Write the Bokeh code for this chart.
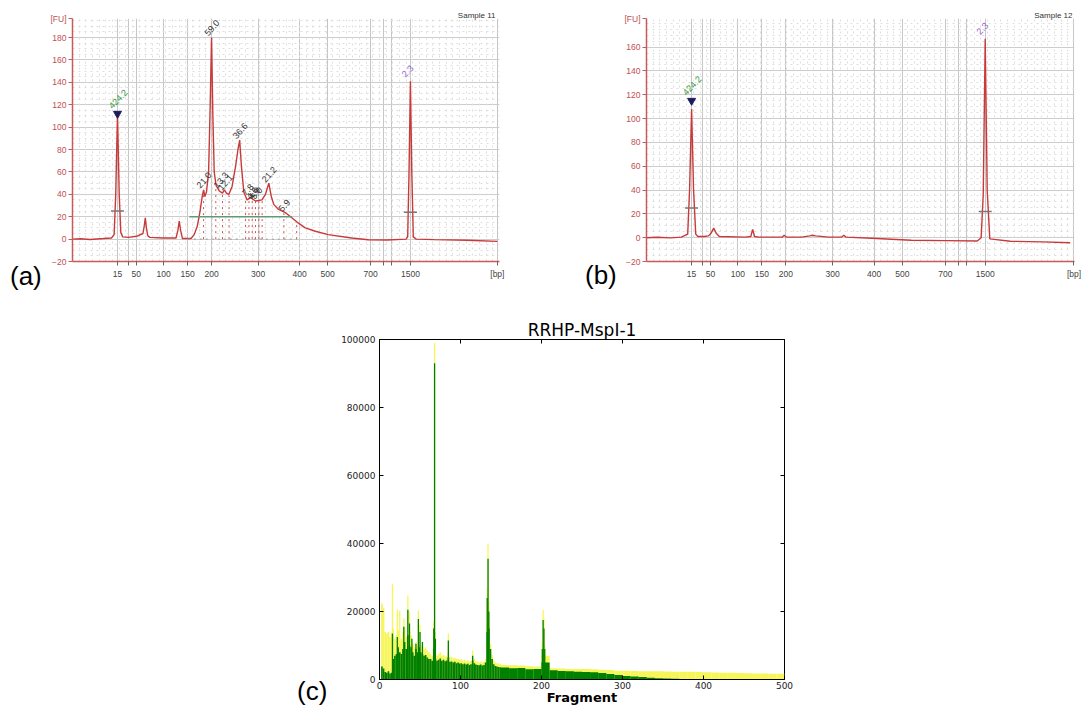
from bokeh.plotting import figure
from bokeh.layouts import column, row
from bokeh.models import (Range1d, FixedTicker, SingleIntervalTicker, Grid, LinearAxis,
                          NumeralTickFormatter, Div)
from bokeh.core.properties import value
from bokeh.embed import file_html
from bokeh.resources import INLINE

# ---------------- DNA 1000 ladder: size (bp) vs migration time (s) ----------------
ladder_bp = [15, 25, 50, 100, 150, 200, 300, 400, 500, 700, 850, 1000, 1500]
ladder_t = [28.43, 30.42, 31.96, 37.06, 41.58, 46.05, 54.79, 62.55, 67.81, 75.87, 78.36, 79.72, 83.31]
ladder_labelled = [15, 50, 100, 150, 200, 300, 400, 500, 700, 1500]

# ---------------- Sample 11 electropherogram ----------------
a_t = [20.0, 21.5, 23.3, 25.8, 27.3, 27.8, 28.1, 28.43, 28.75, 29.05, 29.4, 30.5, 32.0, 33.2, 33.45,
       33.64, 33.85, 34.1, 34.5, 36.9, 39.4, 39.75, 40.0, 40.25, 40.6, 42.2, 42.8, 43.4, 43.9, 44.3,
       44.56, 44.8, 45.1, 45.5, 45.8, 46.05, 46.3, 46.55, 46.9, 47.5, 48.1, 48.45, 48.85, 49.3, 49.9,
       50.55, 51.0, 51.32, 51.65, 52.1, 52.7, 53.35, 54.3, 55.5, 56.15, 56.78, 57.25, 57.7, 58.6, 59.9,
       61.1, 62.4, 63.6, 65.5, 67.9, 72.3, 75.4, 79.0, 82.5, 82.8, 83.05, 83.31, 83.57, 83.85, 84.4,
       87.8, 94.0, 99.6]
a_fu = [0.0, 0.3, -0.3, 0.5, 1.0, 4, 40, 112, 40, 6, 2, 1.5, 2.5, 5, 12,
        19, 10, 3, 1.5, 1.0, 1.0, 8, 16, 8, 0.5, 0.5, 4, 12, 25, 38,
        44, 38, 42, 60, 120, 180, 110, 60, 48, 43, 41, 44, 41, 40, 47,
        65, 80, 88.5, 65, 42, 35, 37, 34, 35, 40, 50, 38, 31, 26.5, 23.6,
        19, 14, 10, 7, 4, 1, -0.6, -0.8, 0, 2, 60, 141, 60, 2, 0,
        -0.5, -1.0, -2.0]
a_peak_t = [46.05, 51.32, 44.56, 47.75, 48.55, 53.06, 53.9, 54.3, 54.7, 56.78, 59.9]
a_peak_fu = [181, 89, 45, 45, 43, 38, 35, 35, 35, 50, 24]
a_peak_lbl = ["59.0", "36.6", "21.0", "13.3", "12.1", "7.8", "4.6", "4.9", "5.0", "21.2", "5.9"]
a_bound_t = [44.56, 46.85, 48.1, 49.33, 52.43, 53.06, 53.67, 54.29, 54.92, 55.53, 59.6, 62.0]
a_bound_fu = [44, 47, 41, 40, 40, 35, 36, 34, 34, 35, 24, 16]
a_marker_t = [28.43, 83.31]
a_marker_fu = [112, 141]
a_width_fu = [25, 24]
a_smear_t = [41.9, 61.1]
a_smear_fu = 20
a_base_t = [41.6, 62.05]

# ---------------- Sample 12 electropherogram ----------------
b_t = [20.0, 22.0, 24.5, 26.5, 27.7, 28.05, 28.43, 28.8, 29.2, 29.6, 30.8, 31.6, 32.1, 32.56, 33.0,
       33.6, 38.5, 39.5, 39.83, 40.2, 41.0, 45.4, 45.74, 46.1, 49.0, 50.5, 51.03, 51.6, 54.0, 56.5,
       56.88, 57.3, 62.12, 69.51, 76.0, 81.83, 82.55, 82.94, 83.31, 83.68, 84.17, 88.0, 94.0, 99.2]
b_fu = [0, 0.3, -0.2, 0.5, 3, 40, 108, 40, 3, 1, 1, 1.5, 4, 8, 4,
        1, 0.5, 1, 7, 1, 0.5, 0.5, 2, 0.5, 0.5, 1.5, 2, 1.5, 0.5, 0.5,
        2, 0.5, -0.5, -2.2, -2.5, -2.8, 0, 36, 167, 40, -1, -3, -3.5, -4.2]
b_marker_t = [28.43, 83.31]
b_marker_fu = [115, 167]
b_width_fu = [25, 22]

marker_lbl = ["424.2", "2.3"]
marker_col = ["#3a9a3a", "#9a6ad0"]

# ---------------- RRHP-MspI-1 fragment histogram ----------------
fine_w = 2      # 0-150 bp, 2-bp bins
coarse_start = 150
coarse_w = 10   # 150-500 bp, 10-bp bins
green_fine = [0, 3800, 3200, 2200, 2000, 2400, 1800, 2000, 6000, 7000, 7500, 9500, 8000, 7500, 9000,
              11000, 9000, 13000, 10000, 9500, 8000, 7000, 9000, 8000, 9500, 8000, 7500, 7000, 7200, 6500,
              6000, 6000, 5500, 9000, 6000, 5500, 5800, 6200, 5500, 5800, 5400, 5600, 6500, 5200, 5300,
              5000, 5200, 4800, 5000, 4700, 4800, 4500, 4700, 4400, 4600, 4300, 4500, 5500, 4800, 4400,
              4300, 4200, 4400, 4100, 4300, 5000, 14000, 15000, 9000, 6000, 4500, 4000, 3800, 3700, 3600]
yellow_fine = [0, 22000, 21000, 14000, 13500, 14000, 12500, 13800, 15000, 12000, 13000, 14500, 11500, 12000, 14000,
               15500, 12500, 17000, 14500, 13000, 10500, 9500, 11000, 10000, 12000, 10000, 9500, 9000, 9500, 8500,
               8000, 7500, 7000, 10000, 7500, 7000, 7500, 8000, 7000, 7200, 6800, 6800, 8000, 6500, 6600,
               6200, 6400, 6000, 6100, 5800, 6000, 5600, 5800, 5400, 5600, 5300, 5500, 6800, 6000, 5400,
               5300, 5100, 5300, 5000, 5200, 6000, 16000, 17000, 10500, 7200, 5600, 5000, 4800, 4700, 4600]
green_coarse = [3500, 3300, 3400, 3000, 3100, 5000, 2700, 2500, 2400, 2300, 2200, 2100, 1900, 1600, 1300,
                1050, 850, 700, 550, 400, 280, 200, 150, 100, 60, 30, 20, 15, 10, 0, 0, 0, 0, 0, 0]
yellow_coarse = [4300, 4200, 4100, 3900, 3800, 7000, 3300, 3200, 3100, 3100, 3100, 3000, 2900, 2800, 2600,
                 2550, 2500, 2450, 2420, 2400, 2350, 2300, 2300, 2250, 2200, 2100, 2050, 2000, 1950, 1900,
                 1850, 1800, 1750, 1720, 1680]
green_spike_x = [16, 22, 30, 35, 37, 40, 45, 48, 50, 53, 67, 68, 69, 85, 115, 133, 134, 135, 201, 202, 203, 204]
green_spike_y = [13500, 12500, 15500, 20500, 16500, 12000, 10500, 17800, 14000, 11000, 15000, 93000, 12000,
                 11500, 7000, 24000, 35500, 20000, 9000, 17500, 15000, 9000]
yellow_spike_x = [3, 16, 22, 25, 30, 35, 37, 48, 50, 67, 68, 69, 85, 115, 133, 134, 135, 201, 202, 203, 204]
yellow_spike_y = [22500, 28000, 20500, 20300, 18000, 24700, 20000, 20300, 16000, 17000, 99000, 14000,
                  13500, 8500, 27000, 40000, 23000, 11000, 20500, 18000, 10000]
c_xticks = [0, 100, 200, 300, 400, 500]
c_yticks = [0, 20000, 40000, 60000, 80000, 100000]

TRACE = "#c83a3a"
AXRED = "#c85a5a"
LBLRED = "#c05050"
FONT_BA = "Liberation Sans"


def panel_label(txt, w, h, left, top):
    html = ('<div style="position:relative; left:%dpx; top:%dpx; font-family:\'Liberation Sans\', Arial, '
            'sans-serif; font-size:26px; line-height:30px; color:#000; white-space:nowrap;">%s</div>'
            % (left, top, txt))
    return Div(text=html, width=w, height=h, margin=0)


def electro(width, ml, mr, mt, mb, ytop, yticks, t, fu, m_t, m_fu, w_fu, sample, bp_pos, sample_off):
    p = figure(width=width, height=290, x_range=Range1d(20, 100), y_range=Range1d(-20, ytop),
               output_backend="svg", toolbar_location=None,
               min_border_left=ml, min_border_right=mr, min_border_top=mt, min_border_bottom=mb)
    p.outline_line_color = None
    p.title.text = sample
    p.title.align = "right"
    p.title.offset = sample_off
    p.title.standoff = -3
    p.title.text_font = FONT_BA
    p.title.text_font_size = "8px"
    p.title.text_font_style = "normal"
    p.title.text_color = "#333333"

    lab_t = [tt for tt, bp in zip(ladder_t, ladder_bp) if bp in ladder_labelled]
    unl_t = [tt for tt, bp in zip(ladder_t, ladder_bp) if bp not in ladder_labelled]
    xa = p.xaxis[0]
    xa.ticker = FixedTicker(ticks=lab_t + [bp_pos], minor_ticks=unl_t)
    overrides = {tt: str(bp) for tt, bp in zip(ladder_t, ladder_bp) if bp in ladder_labelled}
    overrides[bp_pos] = "[bp]"
    xa.major_label_overrides = overrides
    xa.axis_line_color = AXRED
    xa.axis_line_width = 1.5
    xa.major_tick_line_color = "#666666"
    xa.major_tick_out = 4
    xa.major_tick_in = 0
    xa.minor_tick_line_color = "#666666"
    xa.minor_tick_out = 4
    xa.minor_tick_in = 0
    xa.major_label_text_color = "#444444"
    xa.major_label_text_font = FONT_BA
    xa.major_label_text_font_size = "8.5px"
    xa.major_label_standoff = 3

    ya = p.yaxis[0]
    yminor = [v for v in range(-20, int(ytop) + 1, 5)]
    ya.ticker = FixedTicker(ticks=yticks + [ytop], minor_ticks=yminor)
    ya.major_label_overrides = {ytop: "[FU]"}
    ya.axis_line_color = AXRED
    ya.axis_line_width = 1.5
    ya.major_tick_line_color = AXRED
    ya.major_tick_out = 4
    ya.major_tick_in = 0
    ya.minor_tick_line_color = None
    ya.major_label_text_color = LBLRED
    ya.major_label_text_font = FONT_BA
    ya.major_label_text_font_size = "8.5px"
    ya.major_label_standoff = 2

    p.xgrid.grid_line_color = "#c6c6c6"
    p.xgrid.minor_grid_line_color = "#c6c6c6"
    p.ygrid.grid_line_color = "#cdcdcd"
    p.ygrid.minor_grid_line_color = "#dedede"
    p.ygrid.minor_grid_line_dash = "dotted"
    p.add_layout(Grid(dimension=0, ticker=SingleIntervalTicker(interval=1.25),
                      grid_line_color="#dedede", grid_line_dash="dotted"))

    p.line(t, fu, line_color=TRACE, line_width=1.4)
    p.scatter(m_t, w_fu, marker="dash", size=13, line_color="#777777", line_width=1.5)
    p.scatter(m_t[:1], [m_fu[0]], marker="inverted_triangle", size=8,
              fill_color="#1c1c5c", line_color="#1c1c5c")
    mk_y = [m_fu[0] + 4, m_fu[1] + 3]
    p.text(m_t, mk_y, text=marker_lbl, angle=0.8, text_color=marker_col,
           text_font=value(FONT_BA), text_font_size="9px", text_align="left",
           text_baseline="bottom", x_offset=-5)
    return p


pa = electro(493, 22, 41, 17, 28, 197, [-20, 0, 20, 40, 60, 80, 100, 120, 140, 160, 180],
             a_t, a_fu, a_marker_t, a_marker_fu, a_width_fu, "Sample 11", 99.6, 4)
pa.segment(x0=a_bound_t, y0=0, x1=a_bound_t, y1=a_bound_fu, line_color="#d05050",
           line_dash="dotted", line_width=1)
pa.segment(x0=a_base_t[0], y0=0, x1=a_base_t[1], y1=0, line_color="#999999",
           line_dash="dotted", line_width=1)
pa.segment(x0=a_smear_t[0], y0=a_smear_fu, x1=a_smear_t[1], y1=a_smear_fu,
           line_color="#5f9a78", line_width=1.5)
pa.text(a_peak_t, a_peak_fu, text=a_peak_lbl, angle=0.85, text_color="#333333",
        text_font=value(FONT_BA), text_font_size="9px", text_align="left",
        text_baseline="bottom", x_offset=-3)

pb = electro(462, 23, 9, 18, 29, 184, [-20, 0, 20, 40, 60, 80, 100, 120, 140, 160],
             b_t, b_fu, b_marker_t, b_marker_fu, b_width_fu, "Sample 12", 99.9, 2)

# ---------------- panel (c) ----------------
pc = figure(width=462, height=421, x_range=Range1d(0, 500), y_range=Range1d(0, 100000),
            output_backend="svg", toolbar_location=None, title="RRHP-MspI-1",
            min_border_left=39, min_border_right=16, min_border_top=49, min_border_bottom=32)
pc.grid.visible = False
pc.outline_line_color = "black"
pc.title.align = "center"
pc.title.text_font = "DejaVu Sans"
pc.title.text_font_size = "17px"
pc.title.text_font_style = "normal"
pc.title.text_color = "black"
pc.title.standoff = 0
pc.xaxis.ticker = FixedTicker(ticks=c_xticks)
pc.yaxis.ticker = FixedTicker(ticks=c_yticks)
pc.yaxis.formatter = NumeralTickFormatter(format="0")
for ax in (pc.xaxis[0], pc.yaxis[0]):
    ax.major_tick_in = 4
    ax.major_tick_out = 0
    ax.minor_tick_line_color = None
    ax.axis_line_color = "black"
    ax.major_label_text_font = "DejaVu Sans"
    ax.major_label_text_font_size = "9px"
    ax.major_label_text_color = "#222222"
pc.xaxis.major_label_standoff = 2
pc.yaxis.major_label_standoff = 4
pc.xaxis.axis_label = "Fragment"
pc.xaxis.axis_label_text_font = "DejaVu Sans"
pc.xaxis.axis_label_text_font_size = "13px"
pc.xaxis.axis_label_text_font_style = "bold"
pc.xaxis.axis_label_text_color = "black"
pc.xaxis.axis_label_standoff = -2
top_ax = LinearAxis(ticker=FixedTicker(ticks=[], minor_ticks=c_xticks),
                    minor_tick_in=4, minor_tick_out=0, minor_tick_line_color="black",
                    major_tick_line_color=None, axis_line_color=None, major_label_standoff=0)
right_ax = LinearAxis(ticker=FixedTicker(ticks=[], minor_ticks=c_yticks),
                      minor_tick_in=4, minor_tick_out=0, minor_tick_line_color="black",
                      major_tick_line_color=None, axis_line_color=None, major_label_standoff=0)
pc.add_layout(top_ax, "above")
pc.add_layout(right_ax, "right")

YEL = "#f6f65a"
GRN = "#008000"
fine_x = [fine_w * i + fine_w / 2 for i in range(len(green_fine))]
coarse_x = [coarse_start + coarse_w * i + coarse_w / 2 for i in range(len(green_coarse))]
pc.vbar(x=fine_x, top=yellow_fine, width=fine_w * 1.03, fill_color=YEL, line_color=None)
pc.vbar(x=coarse_x, top=yellow_coarse, width=coarse_w * 1.01, fill_color=YEL, line_color=None)
pc.vbar(x=yellow_spike_x, top=yellow_spike_y, width=1.6, fill_color=YEL, line_color=None)
pc.vbar(x=fine_x, top=green_fine, width=fine_w * 1.03, fill_color=GRN, line_color=None)
pc.vbar(x=coarse_x, top=green_coarse, width=coarse_w * 1.01, fill_color=GRN, line_color=None)
pc.vbar(x=green_spike_x, top=green_spike_y, width=1.6, fill_color=GRN, line_color=None)

div_a = panel_label("(a)", 47, 290, 10, 261)
div_b = panel_label("(b)", 81, 290, 45, 260)
div_c = panel_label("(c)", 338, 421, 297, 386)

layout = column(row(div_a, pa, div_b, pb, spacing=0), row(div_c, pc, spacing=0), spacing=0)
open("out.html", "w").write(file_html(layout, INLINE))
